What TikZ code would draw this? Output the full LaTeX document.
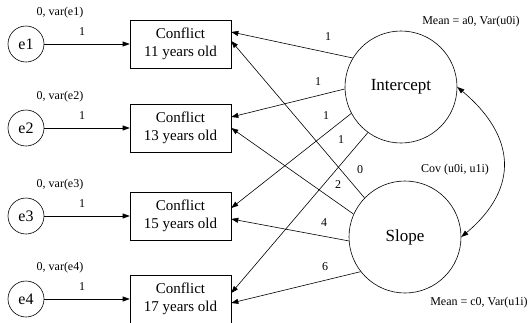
\documentclass[tikz,border=0pt]{standalone}
\usepackage{fontspec}
\setmainfont{Liberation Serif}
\usetikzlibrary{arrows.meta}

\tikzset{sem/.style = {x=1pt, y=-1pt, line width=0.6pt,
                       arr/.style={-{Triangle[length=7pt,width=5pt]}},
                       err/.style={circle, draw, minimum size=36pt, inner sep=0pt,
                                   font=\fontsize{16}{18}\selectfont},
                       obs/.style={rectangle, draw, minimum width=101pt, minimum height=48pt,
                                   align=center, font=\fontsize{15}{18}\selectfont},
                       fac/.style={circle, draw, minimum size=112pt, inner sep=0pt,
                                   font=\fontsize{17}{20}\selectfont},
                       lbl/.style={inner sep=1pt, font=\fontsize{12}{14}\selectfont},
                      }
        }

\begin{document}
\begin{tikzpicture}[sem]
  \useasboundingbox (0,0) rectangle (531,322);
  % indicators and their errors
  \foreach \i/\y/\age in {1/44/11, 2/128/13, 3/216/15, 4/299/17}{
    \node[err] (e\i) at (26,\y) {e\i};
    \node[obs] (b\i) at (180.5,\y) {Conflict\\\age{} years old};
    \node[lbl] (v\i) at (60,\y-31) {0, var(e\i)};
    \draw[arr] (e\i) -- (b\i);
    \node[lbl] (o\i) at (82,\y-12) {1};
  }
  % growth factors
  \node[fac] (I) at (401,87) {Intercept};
  \node[fac] (S) at (405,237) {Slope};
  \node[lbl] (mI) at (471,22) {Mean = a0, Var(u0i)};
  \node[lbl] (mS) at (479,303) {Mean = c0, Var(u1i)};
  % loadings
  \draw[arr] (I.149) -- ([yshift=12pt]b1.east);
  \draw[arr] (I.182) -- ([yshift=11pt]b2.east);
  \draw[arr] (I.208) -- ([yshift=8pt]b3.east);
  \draw[arr] (I.234) -- ([yshift=6pt]b4.east);
  \draw[arr] (S.136) -- ([yshift=3pt]b1.east);
  \draw[arr] (S.156) -- (b2.east);
  \draw[arr] (S.184) -- ([yshift=-3pt]b3.east);
  \draw[arr] (S.218) -- ([yshift=-4pt]b4.east);
  \node[lbl] (wI1) at (328,37) {1};
  \node[lbl] (wI2) at (318,82) {1};
  \node[lbl] (wI3) at (326,116) {1};
  \node[lbl] (wI4) at (341,140) {1};
  \node[lbl] (wS1) at (360,170) {0};
  \node[lbl] (wS2) at (338,185) {2};
  \node[lbl] (wS3) at (324,223) {4};
  \node[lbl] (wS4) at (325,267) {6};
  % covariance
  \draw[{Triangle[length=7pt,width=5pt]}-{Triangle[length=7pt,width=5pt]}]
    (I.east) to[out=-40, in=40, looseness=1.3] (S.east);
  \node[lbl] (cov) at (455,170) {Cov (u0i, u1i)};
\end{tikzpicture}
\end{document}
